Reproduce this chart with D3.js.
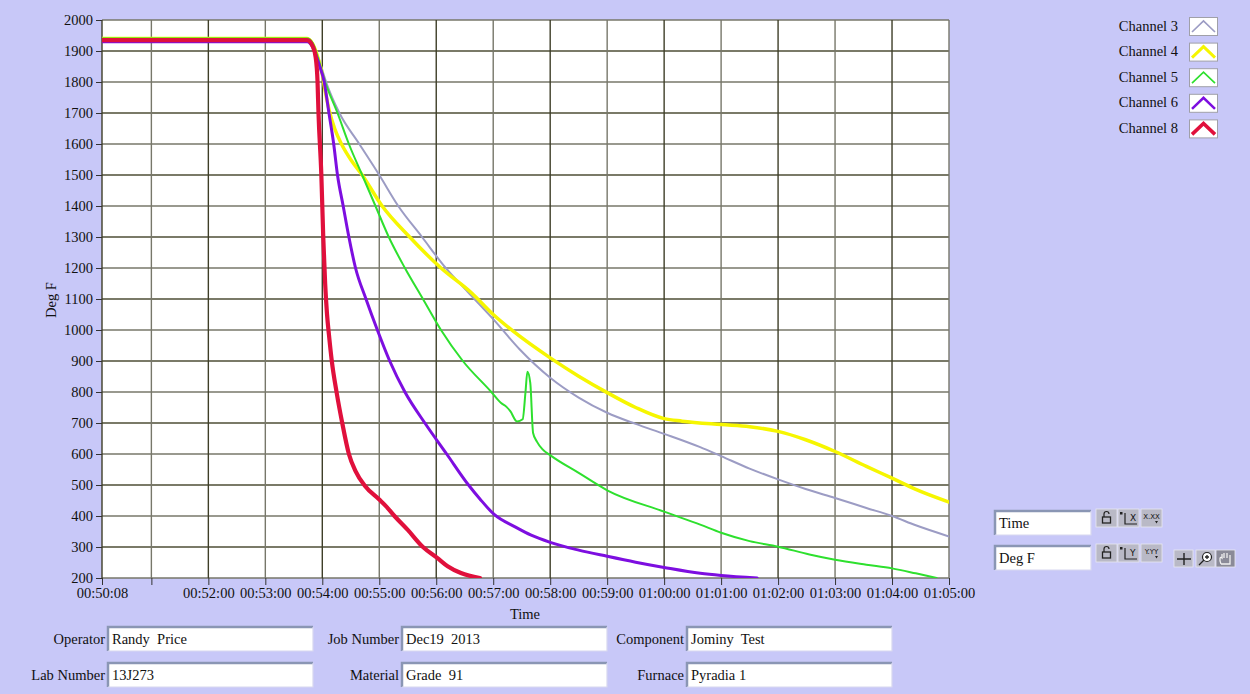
<!DOCTYPE html>
<html>
<head>
<meta charset="utf-8">
<script src="https://cdn.jsdelivr.net/npm/d3@7"></script>
<style>
  html, body { margin: 0; padding: 0; background: #c8c8f8; }
  svg { display: block; }
  text { font-family: "Liberation Serif", "Times New Roman", serif; fill: #111; }
</style>
</head>
<body>
<svg id="chart" width="1250" height="694"></svg>
<script>
// ---------------- DATA ----------------
const channelNames = ["Channel 3", "Channel 4", "Channel 5", "Channel 6", "Channel 8"];

const ch3Times = ["00:50:08","00:53:44","00:53:50","00:53:56","00:54:04","00:54:18","00:54:39","00:55:00","00:55:20","00:55:45","00:56:10","00:56:35","00:57:00","00:57:28","00:58:00","00:58:30","00:59:00","00:59:30","01:00:00","01:00:38","01:01:00","01:01:30","01:02:00","01:02:29","01:03:00","01:03:33","01:04:00","01:04:25","01:05:00"];
const ch3Values = [1940,1940,1925,1877,1800,1700,1600,1500,1400,1300,1200,1117,1035,937,846,782,733,697,665,622,593,553,518,487,458,426,400,370,334];

const ch4Times = ["00:50:08","00:53:44","00:53:50","00:53:56","00:54:00","00:54:03","00:54:07","00:54:13","00:54:21","00:54:31","00:54:42","00:55:03","00:55:32","00:56:05","00:56:37","00:57:00","00:57:21","00:58:00","00:58:30","00:59:00","00:59:30","01:00:00","01:00:19","01:01:00","01:01:30","01:02:00","01:02:29","01:03:00","01:03:33","01:04:00","01:04:25","01:05:00"];
const ch4Values = [1940,1940,1922,1872,1825,1772,1712,1650,1595,1545,1500,1400,1300,1200,1120,1050,996,910,851,798,750,714,706,695,688,673,646,608,560,522,486,445];

const ch5Times = ["00:50:08","00:53:44","00:53:50","00:53:56","00:54:03","00:54:16","00:54:28","00:54:42","00:54:56","00:55:10","00:55:27","00:55:46","00:56:05","00:56:28","00:56:58","00:57:08","00:57:14","00:57:18","00:57:25","00:57:31","00:57:34","00:57:36","00:57:39","00:57:42","00:57:46","00:57:52","00:58:01","00:58:30","00:59:00","01:00:00","01:00:38","01:01:00","01:01:30","01:02:00","01:02:33","01:03:00","01:03:33","01:04:00","01:04:25","01:04:47"];
const ch5Values = [1940,1940,1925,1872,1800,1700,1600,1500,1400,1300,1200,1100,1000,900,800,765,752,738,705,712,800,865,830,668,640,615,594,539,483,414,372,346,319,301,276,259,243,231,215,200];

const ch6Times = ["00:50:08","00:53:44","00:53:50","00:53:56","00:54:02","00:54:07","00:54:12","00:54:16","00:54:22","00:54:28","00:54:35","00:54:46","00:54:58","00:55:11","00:55:27","00:55:48","00:56:11","00:56:34","00:56:46","00:57:01","00:57:23","00:57:40","00:58:00","00:58:30","00:59:00","00:59:30","01:00:00","01:00:38","01:01:00","01:01:38"];
const ch6Values = [1930,1930,1912,1862,1800,1700,1600,1500,1400,1300,1200,1100,1000,900,800,700,600,500,455,405,365,338,315,290,270,251,234,215,208,200];

const ch8Times = ["00:50:08","00:53:44","00:53:50","00:53:53","00:53:55","00:53:56","00:53:59","00:54:01","00:54:03","00:54:05","00:54:07","00:54:10","00:54:15","00:54:21","00:54:28","00:54:35","00:54:45","00:55:00","00:55:07","00:55:16","00:55:30","00:55:46","00:56:01","00:56:12","00:56:26","00:56:46"];
const ch8Values = [1935,1935,1915,1880,1800,1700,1500,1300,1150,1050,985,900,800,700,600,545,497,453,432,400,355,300,265,238,216,200];

const yTicks = [200,300,400,500,600,700,800,900,1000,1100,1200,1300,1400,1500,1600,1700,1800,1900,2000];
const xTicks = ["00:50:08","00:51:00","00:52:00","00:53:00","00:54:00","00:55:00","00:56:00","00:57:00","00:58:00","00:59:00","01:00:00","01:01:00","01:02:00","01:03:00","01:04:00","01:05:00"];
const xTickLabels = ["00:50:08","","00:52:00","00:53:00","00:54:00","00:55:00","00:56:00","00:57:00","00:58:00","00:59:00","01:00:00","01:01:00","01:02:00","01:03:00","01:04:00","01:05:00"];

const formLabels = ["Operator","Lab Number","Job Number","Material","Component","Furnace"];
const formValues = ["Randy  Price","13J273","Dec19  2013","Grade  91","Jominy  Test","Pyradia 1"];
const controlLabels = ["Time","Deg F"];

// ---------------- STYLE ----------------
const colors = ["#9c9cc4","#f6f600","#2ee02e","#7d0ee0","#e0103c"];
const widths = [2, 3.5, 2, 3, 4.2];
const FONT = '"Liberation Serif", "Times New Roman", serif';

// ---------------- CHART ----------------
const svg = d3.select("#chart");
const W = 1250, H = 694;
svg.append("rect").attr("width", W).attr("height", H).attr("fill", "#c8c8f8");

const parse = d3.timeParse("%H:%M:%S");
const L = 102, R = 949, T = 20, B = 578;
const x = d3.scaleTime().domain([parse("00:50:08"), parse("01:05:00")]).range([L, R]);
const y = d3.scaleLinear().domain([200, 2000]).range([B, T]);

svg.append("rect").attr("x", L).attr("y", T).attr("width", R - L).attr("height", B - T).attr("fill", "#ffffff");

// grid
const grid = svg.append("g");
grid.selectAll("line.h").data(yTicks).join("line")
  .attr("x1", L).attr("x2", R).attr("y1", d => y(d)).attr("y2", d => y(d))
  .attr("stroke", (d, i) => i % 2 ? "#4e4e36" : "#77776a").attr("stroke-width", 1.4);
grid.selectAll("line.v").data(xTicks).join("line")
  .attr("x1", d => x(parse(d))).attr("x2", d => x(parse(d))).attr("y1", T).attr("y2", B)
  .attr("stroke", (d, i) => i % 2 ? "#77776a" : "#3e3e28").attr("stroke-width", 1.4);

// axes
const yAxis = svg.append("g").attr("transform", `translate(${L},0)`)
  .call(d3.axisLeft(y).tickValues(yTicks).tickSize(6).tickPadding(3).tickFormat(d3.format("d")));
yAxis.attr("font-family", null);
yAxis.select(".domain").remove();
yAxis.selectAll("line").attr("stroke", "#333");
yAxis.selectAll("text").style("font-family", FONT).style("font-size", "14.5px").attr("fill", "#111");

const xAxis = svg.append("g").attr("transform", `translate(0,${B})`)
  .call(d3.axisBottom(x).tickValues(xTicks.map(parse)).tickSize(7).tickPadding(3).tickFormat((d, i) => xTickLabels[i]));
xAxis.attr("font-family", null);
xAxis.select(".domain").remove();
xAxis.selectAll("line").attr("stroke", "#333");
xAxis.selectAll("text").style("font-family", FONT).style("font-size", "14.5px").attr("fill", "#111");

svg.append("text").attr("x", 525).attr("y", 619).attr("text-anchor", "middle").style("font-size", "14.5px").text("Time");
svg.append("text").attr("transform", "translate(56,300) rotate(-90)").attr("text-anchor", "middle").style("font-size", "14.5px").text("Deg F");

// lines
svg.append("clipPath").attr("id", "plotclip").append("rect").attr("x", L).attr("y", T - 2).attr("width", R - L).attr("height", B - T + 2);
const series = [
  [ch3Times, ch3Values], [ch4Times, ch4Values], [ch5Times, ch5Values], [ch6Times, ch6Values], [ch8Times, ch8Values]
].map(([ts, vs]) => ts.map((t, i) => ({ t: parse(t), v: vs[i] })));

const line = d3.line().x(d => x(d.t)).y(d => y(d.v)).curve(d3.curveMonotoneX);
const drawOrder = [0, 1, 2, 3, 4];
const lg = svg.append("g").attr("clip-path", "url(#plotclip)");
lg.selectAll("path").data(drawOrder).join("path")
  .attr("d", i => line(series[i]))
  .attr("fill", "none").attr("stroke", i => colors[i]).attr("stroke-width", i => widths[i])
  .attr("stroke-linejoin", "round").attr("stroke-linecap", "round");

// legend
const leg = svg.append("g");
channelNames.forEach((name, i) => {
  const cy = 26 + i * 25.6;
  leg.append("text").attr("x", 1178).attr("y", cy + 4.5).attr("text-anchor", "end").style("font-size", "14.5px").text(name);
  leg.append("rect").attr("x", 1189.5).attr("y", cy - 8.5).attr("width", 28).attr("height", 18)
    .attr("fill", "#ffffff").attr("stroke", "#a0a0a8").attr("stroke-width", 1);
  leg.append("polyline")
    .attr("points", `${1192},${cy + 6} ${1203.5},${cy - 5} ${1215},${cy + 6}`)
    .attr("fill", "none").attr("stroke", colors[i]).attr("stroke-width", Math.max(1.6, widths[i] * 0.85))
    .attr("stroke-linejoin", "miter");
});

// form fields
function field(g, bx, by, bw, bh, val) {
  g.append("rect").attr("x", bx).attr("y", by).attr("width", bw).attr("height", bh).attr("fill", "#ffffff");
  g.append("path").attr("d", `M${bx},${by + bh} V${by} H${bx + bw}`).attr("fill", "none").attr("stroke", "#8a96b4").attr("stroke-width", 2.5);
  g.append("path").attr("d", `M${bx},${by + bh} H${bx + bw} V${by}`).attr("fill", "none").attr("stroke", "#d8d8f0").attr("stroke-width", 1.2);
  g.append("text").attr("x", bx + 4).attr("y", by + bh / 2 + 5).style("font-size", "14.5px").style("white-space", "pre").text(val);
}
const fg = svg.append("g");
const fieldPos = [
  { lx: 105, bx: 108, by: 627 }, { lx: 105, bx: 108, by: 663 },
  { lx: 399, bx: 402, by: 627 }, { lx: 399, bx: 402, by: 663 },
  { lx: 684, bx: 687, by: 627 }, { lx: 684, bx: 687, by: 663 }
];
formLabels.forEach((lab, i) => {
  const p = fieldPos[i];
  fg.append("text").attr("x", p.lx).attr("y", p.by + 17).attr("text-anchor", "end").style("font-size", "14.5px").text(lab);
  field(fg, p.bx, p.by, 205, 24, formValues[i]);
});

// right controls
const cg = svg.append("g");
controlLabels.forEach((lab, i) => {
  const by = 511 + i * 35;
  field(cg, 995, by, 96, 24, lab);
  const letters = ["X", "Y"];
  [1096, 1118, 1141].forEach((bx, j) => {
    const g = cg.append("g");
    g.append("rect").attr("x", bx).attr("y", by - 2).attr("width", 21).attr("height", 18).attr("fill", "#b9b9c6").attr("stroke", "#e8e8f0").attr("stroke-width", 0.8);
    if (j === 0) {
      g.append("rect").attr("x", bx + 6.5).attr("y", by + 6).attr("width", 8).attr("height", 6).attr("fill", "none").attr("stroke", "#222").attr("stroke-width", 1.3);
      g.append("path").attr("d", `M${bx + 8},${by + 6} V${by + 3} a2.5,2.5 0 0 1 5,0`).attr("fill", "none").attr("stroke", "#222").attr("stroke-width", 1.2);
    } else if (j === 1) {
      g.append("path").attr("d", `M${bx + 7},${by + 2} V${by + 13} H${bx + 19}`).attr("fill", "none").attr("stroke", "#222").attr("stroke-width", 1.2);
      g.append("text").attr("x", bx + 12).attr("y", by + 10).style("font-size", "9px").style("font-family", "DejaVu Sans").text(letters[i]);
      g.append("rect").attr("x", bx + 2).attr("y", by + 1).attr("width", 2.5).attr("height", 2.5).attr("fill", "#222");
    } else {
      g.append("text").attr("x", bx + 10.5).attr("y", by + 8).attr("text-anchor", "middle").style("font-size", "7px").style("font-family", "DejaVu Sans").text(i === 0 ? "X.XX" : "Y.YY");
      g.append("path").attr("d", `M${bx + 14},${by + 10} l3,0 l-1.5,2.5 z`).attr("fill", "#222");
    }
  });
});
// extra tool buttons
[1174, 1196, 1216].forEach((bx, j) => {
  const by = 550;
  const g = cg.append("g");
  g.append("rect").attr("x", bx).attr("y", by).attr("width", 19).attr("height", 17).attr("fill", j === 2 ? "#8a8a98" : "#b9b9c6").attr("stroke", "#e8e8f0").attr("stroke-width", 0.8);
  if (j === 0) {
    g.append("path").attr("d", `M${bx + 10},${by + 3} V${by + 15} M${bx + 3},${by + 9} H${bx + 17}`).attr("stroke", "#222").attr("stroke-width", 1.4);
  } else if (j === 1) {
    g.append("circle").attr("cx", bx + 11).attr("cy", by + 7).attr("r", 4.5).attr("fill", "#fff").attr("stroke", "#222").attr("stroke-width", 1.2);
    g.append("path").attr("d", `M${bx + 8},${by + 10} L${bx + 3},${by + 15} M${bx + 9},${by + 7} H${bx + 13} M${bx + 11},${by + 5} V${by + 9}`).attr("stroke", "#222").attr("stroke-width", 1.3);
  } else {
    g.append("path").attr("d", `M${bx + 5},${by + 14} C${bx + 3},${by + 9} ${bx + 4},${by + 6} ${bx + 6},${by + 8} V${by + 4} M${bx + 8},${by + 8} V${by + 3} M${bx + 11},${by + 8} V${by + 3} M${bx + 14},${by + 9} V${by + 5} M${bx + 5},${by + 14} H${bx + 14} V${by + 9}`)
      .attr("fill", "none").attr("stroke", "#f0f0f0").attr("stroke-width", 1.3);
  }
});
</script>
</body>
</html>
